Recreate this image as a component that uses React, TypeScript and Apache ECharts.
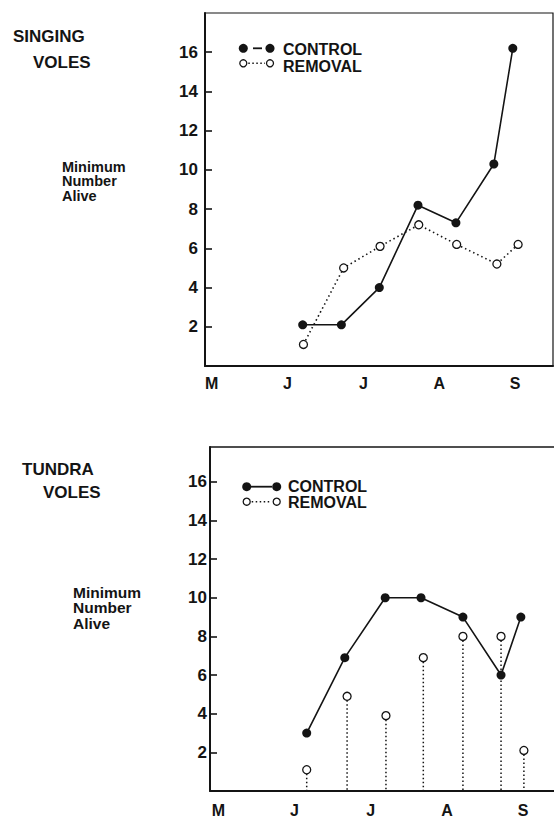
import React, { useEffect, useRef } from "react";
import * as echarts from "echarts";

// Month position: 0 = start of May, 1 = June, ...
const monthLabels = ["M", "J", "J", "A", "S"];
const monthTicks = [0, 1, 2, 3, 4];
const yTickLabels = [2, 4, 6, 8, 10, 12, 14, 16];

const singingControlMonth = [1.2, 1.71, 2.21, 2.72, 3.22, 3.72, 3.97];
const singingControl = [2.1, 2.1, 4.0, 8.2, 7.3, 10.3, 16.2];
const singingRemovalMonth = [1.21, 1.74, 2.22, 2.73, 3.23, 3.76, 4.04];
const singingRemoval = [1.1, 5.0, 6.1, 7.2, 6.2, 5.2, 6.2];

const tundraControlMonth = [1.16, 1.66, 2.19, 2.66, 3.21, 3.71, 3.97];
const tundraControl = [3.0, 6.9, 10.0, 10.0, 9.0, 6.0, 9.0];
const tundraRemovalMonth = [1.16, 1.69, 2.2, 2.69, 3.21, 3.71, 4.01];
const tundraRemoval = [1.1, 4.9, 3.9, 6.9, 8.0, 8.0, 2.1];

const FONT = "'Liberation Sans', Arial, Helvetica, sans-serif";
const INK = "#141414";

const zip = (xs: number[], ys: number[]) => xs.map((x, i) => [x, ys[i]]);

function makeXAxis(gridIndex: number, min: number, max: number, labelMargin: number) {
  return {
    type: "value",
    gridIndex,
    min,
    max,
    axisLine: { show: true, onZero: false, lineStyle: { color: INK, width: 2 } },
    axisTick: { show: false },
    splitLine: { show: false },
    axisLabel: {
      customValues: monthTicks,
      formatter: (v: number) => monthLabels[Math.round(v)] ?? "",
      color: INK,
      fontFamily: FONT,
      fontWeight: "bold",
      fontSize: 16,
      margin: labelMargin,
    },
  };
}

function makeYAxis(gridIndex: number, max: number, labelMargin: number) {
  return {
    type: "value",
    gridIndex,
    min: 0,
    max,
    axisLine: { show: true, onZero: false, lineStyle: { color: INK, width: 2 } },
    axisTick: {
      show: true,
      inside: true,
      length: 7,
      customValues: yTickLabels,
      lineStyle: { color: INK, width: 1.6 },
    },
    splitLine: { show: false },
    axisLabel: {
      customValues: yTickLabels,
      color: INK,
      fontFamily: FONT,
      fontWeight: "bold",
      fontSize: 17,
      margin: labelMargin,
    },
  };
}

function textEl(text: string, x: number, y: number, size: number) {
  return {
    type: "text",
    x,
    y,
    style: {
      text,
      fill: INK,
      font: `bold ${size}px ${FONT}`,
      fontSize: size,
      fontWeight: "bold",
      fontFamily: FONT,
      align: "left",
      verticalAlign: "middle",
    },
  };
}

function legendEls(
  x1: number,
  x2: number,
  yC: number,
  yR: number,
  dashFrom: number,
  dashTo: number,
  tx: number,
  tyC: number,
  tyR: number
) {
  return [
    { type: "line", shape: { x1: dashFrom, y1: yC, x2: dashTo, y2: yC }, style: { stroke: INK, lineWidth: 1.8 } },
    { type: "circle", shape: { cx: x1, cy: yC, r: 4.5 }, style: { fill: INK } },
    { type: "circle", shape: { cx: x2, cy: yC, r: 4.5 }, style: { fill: INK } },
    { type: "line", shape: { x1: x1 + 5, y1: yR, x2: x2 - 5, y2: yR }, style: { stroke: INK, lineWidth: 1.5, lineDash: [1.5, 2.5] } },
    { type: "circle", shape: { cx: x1, cy: yR, r: 3.5 }, style: { fill: "#fff", stroke: INK, lineWidth: 1.3 } },
    { type: "circle", shape: { cx: x2, cy: yR, r: 3.5 }, style: { fill: "#fff", stroke: INK, lineWidth: 1.3 } },
    textEl("CONTROL", tx, tyC, 16),
    textEl("REMOVAL", tx, tyR, 16),
  ];
}

export default function App() {
  const ref = useRef<HTMLDivElement>(null);

  useEffect(() => {
    if (!ref.current) return;
    document.body.style.margin = "0";
    const chart = echarts.init(ref.current, null, { renderer: "svg" });

    const controlLine = (xAxisIndex: number, yAxisIndex: number, data: number[][]) => ({
      type: "line",
      xAxisIndex,
      yAxisIndex,
      data,
      symbol: "circle",
      symbolSize: 9,
      showSymbol: true,
      lineStyle: { color: INK, width: 1.6 },
      itemStyle: { color: INK },
      z: 4,
    });

    const option: any = {
      animation: false,
      backgroundColor: "#fff",
      grid: [
        { left: 205, top: 13, width: 348, height: 353, show: true, borderColor: INK, borderWidth: 1.2 },
        { left: 210, top: 447, width: 344, height: 349, show: false },
      ],
      xAxis: [
        makeXAxis(0, -0.088, 4.5, 9),
        makeXAxis(1, -0.109, 4.405, 11),
        {
          type: "value",
          gridIndex: 1,
          position: "top",
          min: -0.109,
          max: 4.405,
          axisLine: { show: true, onZero: false, lineStyle: { color: INK, width: 1.5 } },
          axisTick: { show: false },
          axisLabel: { show: false },
          splitLine: { show: false },
        },
      ],
      yAxis: [makeYAxis(0, 18, 7), makeYAxis(1, 17.8, 3)],
      series: [
        {
          type: "line",
          xAxisIndex: 0,
          yAxisIndex: 0,
          data: zip(singingRemovalMonth, singingRemoval),
          symbol: "circle",
          symbolSize: 8,
          lineStyle: { color: INK, width: 1.6, type: [1.5, 3] },
          itemStyle: { color: "#fff", borderColor: INK, borderWidth: 1.3 },
          z: 3,
        },
        controlLine(0, 0, zip(singingControlMonth, singingControl)),
        controlLine(1, 1, zip(tundraControlMonth, tundraControl)),
        {
          type: "custom",
          xAxisIndex: 1,
          yAxisIndex: 1,
          data: zip(tundraRemovalMonth, tundraRemoval),
          encode: { x: 0, y: 1 },
          z: 2,
          renderItem: (_params: any, api: any) => {
            const x = api.value(0);
            const y = api.value(1);
            const top = api.coord([x, y]);
            const base = api.coord([x, 0]);
            return {
              type: "line",
              shape: { x1: top[0], y1: top[1] + 4, x2: base[0], y2: base[1] },
              style: { stroke: INK, lineWidth: 1.5, lineDash: [1.5, 2.5] },
            };
          },
        },
        {
          type: "scatter",
          xAxisIndex: 1,
          yAxisIndex: 1,
          data: zip(tundraRemovalMonth, tundraRemoval),
          symbol: "circle",
          symbolSize: 8,
          itemStyle: { color: "#fff", borderColor: INK, borderWidth: 1.3, opacity: 1 },
          z: 5,
        },
      ],
      graphic: [
        textEl("SINGING", 13, 36, 17),
        textEl("VOLES", 33, 62.5, 17),
        textEl("Minimum", 62, 166.5, 14.5),
        textEl("Number", 62, 181, 14.5),
        textEl("Alive", 62, 195.5, 14.5),
        textEl("TUNDRA", 22, 469, 17),
        textEl("VOLES", 43, 492, 17),
        textEl("Minimum", 73, 592, 15.5),
        textEl("Number", 73, 607.5, 15.5),
        textEl("Alive", 73, 623, 15.5),
        ...legendEls(243.3, 270, 48.3, 63.3, 253, 262, 283, 49, 66),
        ...legendEls(246.7, 276.7, 486.7, 501.7, 251, 272, 288, 486.5, 502.5),
      ],
    };

    chart.setOption(option);
    return () => chart.dispose();
  }, []);

  return (
    <div
      ref={ref}
      style={{ position: "fixed", left: 0, top: 0, width: 554, height: 818, background: "#fff" }}
    />
  );
}
